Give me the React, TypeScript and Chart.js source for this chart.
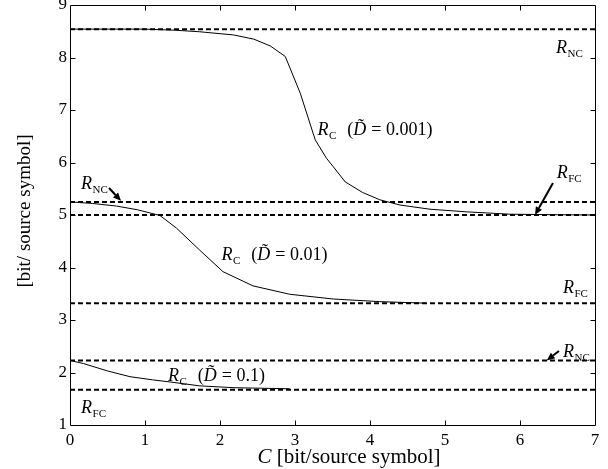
import React, { useEffect, useRef } from "react";
import { Chart, registerables } from "chart.js";

Chart.register(...registerables);

// Axis ticks
const xTickValues = [0, 1, 2, 3, 4, 5, 6, 7];
const yTickValues = [1, 2, 3, 4, 5, 6, 7, 8, 9];

// Limit levels (dashed lines)
const rNCLevels = [8.54, 5.25, 2.23];
const rFCLevels = [5.0, 3.32, 1.67];

// R_C curves
const cA_x = [0, 1.0, 1.4, 1.73, 2.18, 2.45, 2.67, 2.87, 3.07, 3.27, 3.42, 3.51, 3.67, 3.9, 4.13, 4.4, 4.8, 5.29, 5.87, 6.5, 7];
const cA_y = [8.54, 8.54, 8.52, 8.49, 8.43, 8.35, 8.22, 8.02, 7.32, 6.43, 6.08, 5.92, 5.63, 5.43, 5.29, 5.19, 5.11, 5.06, 5.015, 5.005, 5.0];

const cB_x = [0, 0.3, 0.62, 0.9, 1.2, 1.42, 1.73, 2.04, 2.44, 2.93, 3.51, 4.13, 4.75];
const cB_y = [5.25, 5.22, 5.17, 5.1, 4.99, 4.75, 4.33, 3.92, 3.65, 3.49, 3.40, 3.35, 3.32];

const cC_x = [0, 0.18, 0.5, 0.8, 1.1, 1.33, 1.6, 1.73, 2.2, 2.93];
const cC_y = [2.23, 2.17, 2.03, 1.92, 1.86, 1.82, 1.77, 1.745, 1.71, 1.69];

const SERIF = '"Liberation Serif", "Times New Roman", Times, serif';

type Part = { t: string; s: "i" | "n" | "s" | "g" };

const R = (sub: string): Part[] => [
  { t: "R", s: "i" },
  { t: sub, s: "s" },
];
const RC = (d: string): Part[] => [
  ...R("C"),
  { t: "11", s: "g" },
  { t: "(", s: "n" },
  { t: "D\u0303", s: "i" },
  { t: " = " + d + ")", s: "n" },
];

// Annotation anchors in data units (left of text, baseline)
const annotations: { x: number; y: number; parts: Part[] }[] = [
  { x: 6.48, y: 8.086, parts: R("NC") },
  { x: 3.3, y: 6.52, parts: RC("0.001") },
  { x: 6.49, y: 5.705, parts: R("FC") },
  { x: 0.147, y: 5.495, parts: R("NC") },
  { x: 2.02, y: 4.143, parts: RC("0.01") },
  { x: 6.573, y: 3.52, parts: R("FC") },
  { x: 6.573, y: 2.3, parts: R("NC") },
  { x: 1.307, y: 1.838, parts: RC("0.1") },
  { x: 0.147, y: 1.229, parts: R("FC") },
];

const arrows: { x0: number; y0: number; x1: number; y1: number }[] = [
  { x0: 6.44, y0: 5.61, x1: 6.2, y1: 5.0 },
  { x0: 0.52, y0: 5.514, x1: 0.68, y1: 5.27 },
  { x0: 6.52, y0: 2.41, x1: 6.356, y1: 2.23 },
];

function fontFor(s: Part["s"]) {
  if (s === "i") return `italic 18px ${SERIF}`;
  if (s === "s") return `11px ${SERIF}`;
  return `18px ${SERIF}`;
}

function drawParts(ctx: CanvasRenderingContext2D, x: number, y: number, parts: Part[]) {
  let cx = x;
  ctx.textBaseline = "alphabetic";
  ctx.textAlign = "left";
  for (const p of parts) {
    if (p.s === "g") {
      cx += parseFloat(p.t);
      continue;
    }
    ctx.font = fontFor(p.s);
    const dy = p.s === "s" ? 4 : 0;
    ctx.fillText(p.t, cx, y + dy);
    cx += ctx.measureText(p.t).width + (p.s === "i" ? 0.5 : 0);
  }
}

const decorPlugin = {
  id: "decor",
  afterDraw(chart: any) {
    const { ctx, chartArea, scales } = chart;
    const xs = scales.x;
    const ys = scales.y;
    const L = Math.floor(chartArea.left) + 0.5;
    const Rt = Math.floor(chartArea.right) + 0.5;
    const T = Math.floor(chartArea.top) + 0.5;
    const B = Math.floor(chartArea.bottom) + 0.5;
    ctx.save();
    ctx.strokeStyle = "#000";
    ctx.fillStyle = "#000";
    ctx.lineWidth = 1;
    ctx.setLineDash([]);
    ctx.beginPath();
    ctx.rect(L, T, Rt - L, B - T);
    ctx.stroke();
    const tl = 5;
    ctx.beginPath();
    for (const v of xTickValues) {
      if (v === xs.min || v === xs.max) continue;
      const px = Math.round(xs.getPixelForValue(v)) + 0.5;
      ctx.moveTo(px, B);
      ctx.lineTo(px, B - tl);
      ctx.moveTo(px, T);
      ctx.lineTo(px, T + tl);
    }
    for (const v of yTickValues) {
      if (v === ys.min || v === ys.max) continue;
      const py = Math.round(ys.getPixelForValue(v)) + 0.5;
      ctx.moveTo(L, py);
      ctx.lineTo(L + tl, py);
      ctx.moveTo(Rt, py);
      ctx.lineTo(Rt - tl, py);
    }
    ctx.stroke();

    // annotations
    for (const a of annotations) {
      drawParts(ctx, xs.getPixelForValue(a.x), ys.getPixelForValue(a.y), a.parts);
    }

    // arrows
    for (const a of arrows) {
      const x0 = xs.getPixelForValue(a.x0);
      const y0 = ys.getPixelForValue(a.y0);
      const x1 = xs.getPixelForValue(a.x1);
      const y1 = ys.getPixelForValue(a.y1);
      const ang = Math.atan2(y1 - y0, x1 - x0);
      const hl = 8;
      const hw = 3.5;
      const bx = x1 - hl * Math.cos(ang);
      const by = y1 - hl * Math.sin(ang);
      ctx.lineWidth = 2;
      ctx.beginPath();
      ctx.moveTo(x0, y0);
      ctx.lineTo(bx, by);
      ctx.stroke();
      ctx.beginPath();
      ctx.moveTo(x1, y1);
      ctx.lineTo(bx + hw * Math.sin(ang), by - hw * Math.cos(ang));
      ctx.lineTo(bx - hw * Math.sin(ang), by + hw * Math.cos(ang));
      ctx.closePath();
      ctx.fill();
    }

    // axis titles
    ctx.textBaseline = "alphabetic";
    ctx.textAlign = "left";
    ctx.font = `italic 21px ${SERIF}`;
    const c = "C";
    const rest = " [bit/source symbol]";
    const wc = ctx.measureText(c).width;
    ctx.font = `21px ${SERIF}`;
    const wr = ctx.measureText(rest).width;
    const cx = 349 - (wc + wr) / 2;
    ctx.font = `italic 21px ${SERIF}`;
    ctx.fillText(c, cx, 463);
    ctx.font = `21px ${SERIF}`;
    ctx.fillText(rest, cx + wc, 463);

    ctx.save();
    ctx.translate(30, (chartArea.top + chartArea.bottom) / 2 - 4);
    ctx.rotate(-Math.PI / 2);
    ctx.textAlign = "center";
    ctx.font = `19px ${SERIF}`;
    ctx.fillText("[bit/ source symbol]", 0, 0);
    ctx.restore();

    ctx.restore();
  },
};

export default function App() {
  const ref = useRef<HTMLCanvasElement>(null);
  useEffect(() => {
    if (!ref.current) return;
    const pts = (xs: number[], ys: number[]) => xs.map((x, i) => ({ x, y: ys[i] }));
    const hline = (v: number) => [
      { x: xTickValues[0], y: v },
      { x: xTickValues[xTickValues.length - 1], y: v },
    ];
    const solid = (data: any) => ({
      data,
      showLine: true,
      borderColor: "#000",
      borderWidth: 1,
      pointRadius: 0,
      fill: false,
      tension: 0,
    });
    const dashed = (v: number) => ({
      data: hline(v),
      showLine: true,
      borderColor: "#000",
      borderWidth: 2,
      borderDash: [5, 3],
      pointRadius: 0,
      fill: false,
    });
    const chart = new Chart(ref.current, {
      type: "scatter",
      data: {
        datasets: [
          solid(pts(cA_x, cA_y)),
          solid(pts(cB_x, cB_y)),
          solid(pts(cC_x, cC_y)),
          ...rNCLevels.map(dashed),
          ...rFCLevels.map(dashed),
        ] as any,
      },
      options: {
        animation: false,
        responsive: false,
        devicePixelRatio: 1,
        layout: { padding: { left: 0, right: 13, top: 5, bottom: 0 } },
        plugins: { legend: { display: false }, tooltip: { enabled: false } },
        scales: {
          x: {
            type: "linear",
            min: 0,
            max: 7,
            afterBuildTicks: (s: any) => {
              s.ticks = xTickValues.map((v) => ({ value: v }));
            },
            ticks: {
              color: "#000",
              font: { family: SERIF, size: 17 },
              padding: 5,
              maxRotation: 0,
              autoSkip: false,
            },
            grid: { display: false, drawTicks: false },
            border: { display: false },
            afterFit: (s: any) => {
              s.height = 44;
              s.paddingLeft = 0;
              s.paddingRight = 0;
            },
          },
          y: {
            type: "linear",
            min: 1,
            max: 9,
            afterBuildTicks: (s: any) => {
              s.ticks = yTickValues.map((v) => ({ value: v }));
            },
            ticks: {
              color: "#000",
              font: { family: SERIF, size: 17 },
              padding: 3,
              autoSkip: false,
            },
            grid: { display: false, drawTicks: false },
            border: { display: false },
            afterFit: (s: any) => {
              s.width = 70;
              s.paddingTop = 0;
              s.paddingBottom = 0;
            },
          },
        },
      } as any,
      plugins: [decorPlugin],
    });
    return () => chart.destroy();
  }, []);
  return (
    <div style={{ position: "absolute", left: 0, top: 0, width: 608, height: 469, background: "#fff" }}>
      <canvas ref={ref} width={608} height={469} />
    </div>
  );
}
